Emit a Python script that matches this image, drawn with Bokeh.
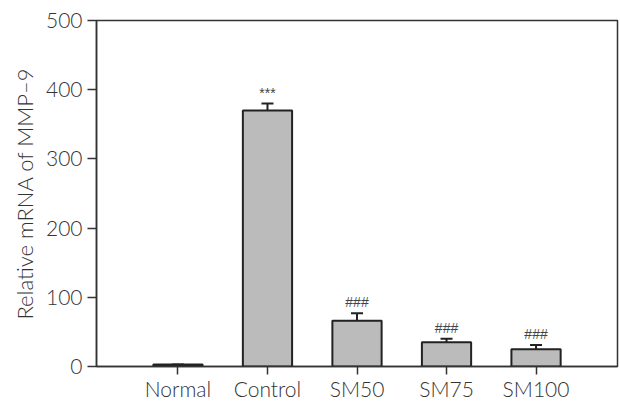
from bokeh.plotting import figure
from bokeh.models import ColumnDataSource, FactorRange, Range1d, Whisker, TeeHead
from bokeh.core.properties import value
from bokeh.embed import file_html
from bokeh.resources import INLINE

# Relative MMP-9 mRNA expression per group (mean and SEM)
groups = ["Normal", "Control", "SM50", "SM75", "SM100"]
means = [3, 370, 66, 35, 25]
sems = [0, 10, 11, 5, 6]
marks = ["", "***", "###", "###", "###"]
y_ticks = [0, 100, 200, 300, 400, 500]

FONT = "'Lato Light', Lato"
INK = "#333333"

src = ColumnDataSource(dict(
    group=groups,
    mean=means,
    top=[m + s for m, s in zip(means, sems)],
    mark=marks,
))

p = figure(
    width=620, height=403,
    x_range=FactorRange(*groups, range_padding=0.41, range_padding_units="absolute"),
    y_range=Range1d(0, 500),
    output_backend="svg", toolbar_location=None,
    min_border_left=96, min_border_right=3, min_border_top=20, min_border_bottom=37,
)

p.vbar(x="group", top="mean", width=0.55, source=src,
       fill_color="#bbbbbb", line_color="#222222", line_width=2)

err = Whisker(base="group", lower="mean", upper="top", source=src,
              line_color="#222222", line_width=2,
              upper_head=TeeHead(size=12, line_color="#222222", line_width=2),
              lower_head=None)
p.add_layout(err)

p.text(x="group", y="top", text="mark", source=src,
       text_align="center", text_baseline="bottom", y_offset=-3,
       text_font=value("Liberation Sans"), text_font_size="14px", text_color="#444444")

# frame and axes
p.outline_line_color = INK
p.outline_line_width = 1.5
p.grid.visible = False
p.background_fill_color = "white"
p.border_fill_color = "white"

for ax in (p.xaxis[0], p.yaxis[0]):
    ax.axis_line_color = INK
    ax.axis_line_width = 1.5
    ax.major_tick_line_color = INK
    ax.major_tick_line_width = 1.5
    ax.minor_tick_line_color = None
    ax.major_label_text_font = FONT
    ax.major_label_text_font_size = "21px"
    ax.major_label_text_color = INK

p.yaxis.ticker = y_ticks
p.yaxis.major_tick_in = 0
p.yaxis.major_tick_out = 9
p.yaxis.major_label_standoff = 5
p.yaxis.axis_label = "Relative mRNA of MMP\u20139"
p.yaxis.axis_label_text_font = FONT
p.yaxis.axis_label_text_font_size = "22px"
p.yaxis.axis_label_text_font_style = "normal"
p.yaxis.axis_label_text_color = INK
p.yaxis.axis_label_standoff = 5

p.xaxis.major_tick_in = 0
p.xaxis.major_tick_out = 8
p.xaxis.major_label_standoff = 1

open("out.html", "w").write(file_html(p, INLINE))
